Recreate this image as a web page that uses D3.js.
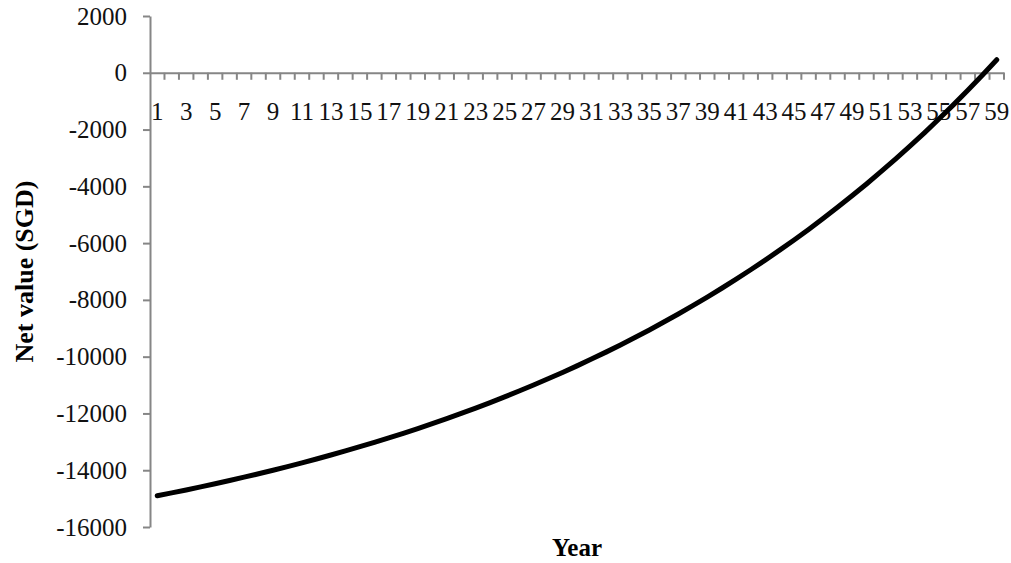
<!DOCTYPE html>
<html lang="en">

<head>
    <meta charset="UTF-8">
    <title>Net value by year</title>
    <style>
        body {
            margin: 0;
            background: #fff;
        }

        svg {
            display: block;
        }
    </style>
</head>

<body>
    <script src="https://d3js.org/d3.v7.min.js"></script>
    <script>
        // data
        const years = d3.range(1, 60);
        const netValue = [
            -14900, -14799, -14695, -14587, -14477, -14363, -14245, -14125, -14000, -13872,
            -13740, -13604, -13464, -13320, -13171, -13018, -12860, -12698, -12531, -12358,
            -12181, -11998, -11810, -11616, -11416, -11210, -10999, -10780, -10555, -10324,
            -10086, -9840, -9587, -9326, -9058, -8781, -8497, -8203, -7901, -7590,
            -7270, -6939, -6600, -6249, -5889, -5517, -5134, -4740, -4334, -3916,
            -3485, -3042, -2585, -2114, -1629, -1130, -616, -86, 460
        ];
        const yTicks = [2000, 0, -2000, -4000, -6000, -8000, -10000, -12000, -14000, -16000];
        const xLabelYears = years.filter(d => d % 2 === 1);
        const xTitle = 'Year';
        const yTitle = 'Net value (SGD)';

        {
            const width = 1011;
            const height = 563;
            const margin = { top: 16, right: 7, bottom: 36, left: 150 };
            const innerWidth = width - margin.left - margin.right;
            const innerHeight = height - margin.top - margin.bottom;
            const axisColor = '#868686';

            const svg = d3.select('body').append('svg')
                .attr('width', width)
                .attr('height', height)
                .style('font-family', "'Liberation Serif'");

            const g = svg.append('g')
                .attr('transform', `translate(${margin.left}, ${margin.top})`);

            // scales
            const xScale = d3.scaleBand()
                .domain(years)
                .range([0, innerWidth])
                .padding(0);

            const yScale = d3.scaleLinear()
                .domain([-16000, 2000])
                .range([innerHeight, 0]);

            // y axis
            const yAxis = d3.axisLeft(yScale)
                .tickValues(yTicks)
                .tickFormat(d => d.toString())
                .tickSizeInner(7)
                .tickSizeOuter(0)
                .tickPadding(16);

            const yAxisGroup = g.append('g').call(yAxis);
            yAxisGroup.attr('font-family', null).attr('font-size', null);
            yAxisGroup.select('.domain').attr('stroke', axisColor).attr('stroke-width', 2);
            yAxisGroup.selectAll('.tick line').attr('stroke', axisColor).attr('stroke-width', 2);
            yAxisGroup.selectAll('.tick text')
                .style('font-size', '25px')
                .attr('fill', '#111');

            // x axis crosses at 0
            const xAxis = d3.axisBottom(xScale)
                .tickValues(xLabelYears)
                .tickSizeInner(0)
                .tickSizeOuter(0)
                .tickPadding(29);

            const xAxisGroup = g.append('g')
                .attr('transform', `translate(0, ${yScale(0)})`)
                .call(xAxis);
            xAxisGroup.attr('font-family', null).attr('font-size', null);
            xAxisGroup.select('.domain').attr('stroke', axisColor).attr('stroke-width', 2);
            xAxisGroup.selectAll('.tick text')
                .style('font-size', '25px')
                .attr('fill', '#111');

            // tick marks between categories
            xAxisGroup.selectAll('.cat-tick').data(years).join('line')
                .attr('class', 'cat-tick')
                .attr('x1', d => xScale(d) + xScale.bandwidth())
                .attr('x2', d => xScale(d) + xScale.bandwidth())
                .attr('y1', 0)
                .attr('y2', 7)
                .attr('stroke', axisColor)
                .attr('stroke-width', 2);

            // line
            const line = d3.line()
                .x((d, i) => xScale(years[i]) + xScale.bandwidth() / 2)
                .y(d => yScale(d));

            g.append('path')
                .datum(netValue)
                .attr('d', line)
                .attr('fill', 'none')
                .attr('stroke', '#000')
                .attr('stroke-width', 5)
                .attr('stroke-linecap', 'round')
                .attr('stroke-linejoin', 'round');

            // axis titles
            svg.append('text')
                .text(xTitle)
                .attr('x', margin.left + innerWidth / 2)
                .attr('y', 556)
                .attr('text-anchor', 'middle')
                .style('font-size', '25px')
                .style('font-weight', 'bold');

            svg.append('text')
                .text(yTitle)
                .attr('transform', `translate(33, ${margin.top + innerHeight / 2}) rotate(-90)`)
                .attr('text-anchor', 'middle')
                .style('font-size', '26px')
                .style('font-weight', 'bold');
        }
    </script>
</body>

</html>
